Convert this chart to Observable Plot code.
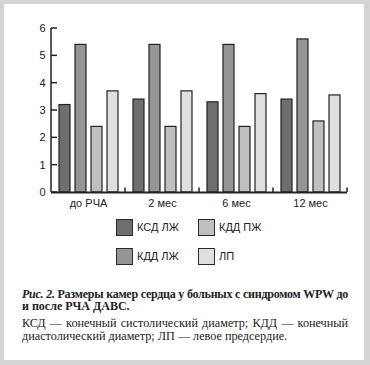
<!DOCTYPE html>
<html><head><meta charset="utf-8">
<script src="https://cdn.jsdelivr.net/npm/d3@7"></script>
<script src="https://cdn.jsdelivr.net/npm/@observablehq/plot@0.6"></script>
<style>
html,body{margin:0;padding:0;background:#fff;}
#page{position:relative;width:370px;height:365px;overflow:hidden;background:#fff;}
#border{position:absolute;left:0;top:0;width:370px;height:365px;box-sizing:border-box;border-style:solid;border-color:#d4d4d4;border-width:4px 6px 5px 4px;pointer-events:none;}
#chart{position:absolute;left:0;top:0;}
#legend{position:absolute;left:116px;top:219px;font-family:"Liberation Sans",Arial,sans-serif;font-size:11px;color:#222;display:grid;grid-template-columns:82px auto;grid-template-rows:29px 29px;grid-auto-flow:column;}
.item{display:flex;align-items:flex-start;gap:4px;line-height:17px;}
.sw{width:17px;height:17px;box-sizing:border-box;border:1px solid #2a2a2a;}
#caption{position:absolute;left:22px;top:287.5px;width:326px;font-family:"Liberation Serif","Times New Roman",serif;color:#222;}
.h{font-size:12px;line-height:12.5px;white-space:nowrap;}
.b{font-size:12.2px;line-height:13px;white-space:nowrap;}
.j{text-align:justify;text-align-last:justify;}
.p2{margin-top:4px;}
</style>
</head><body>
<div id="page">
  <div id="chart"></div>
  <div id="legend"></div>
  <div id="caption">
    <div class="h j fit"><b><i>Рис. 2.</i> Размеры камер сердца у больных с синдромом WPW до</b></div>
    <div class="h"><b>и после РЧА ДАВС.</b></div>
    <div class="b j p2 fit">КСД — конечный систолический диаметр; КДД — конечный</div>
    <div class="b">диастолический диаметр; ЛП — левое предсердие.</div>
  </div>
  <div id="border"></div>
</div>
<script>
const groups = ["до РЧА", "2 мес", "6 мес", "12 мес"];
const series = ["КСД ЛЖ", "КДД ЛЖ", "КДД ПЖ", "ЛП"];
const ksdLZh = [3.2, 3.4, 3.3, 3.4];
const kddLZh = [5.4, 5.4, 5.4, 5.6];
const kddPZh = [2.4, 2.4, 2.4, 2.6];
const lp = [3.7, 3.7, 3.6, 3.55];
const colors = ["#6e6e71", "#959598", "#bfbfc2", "#dfdfe1"];
const yTicks = [0, 1, 2, 3, 4, 5, 6];
const legendOrder = ["КСД ЛЖ", "КДД ЛЖ", "КДД ПЖ", "ЛП"];

const valuesBySeries = [ksdLZh, kddLZh, kddPZh, lp];
const rows = groups.flatMap((g, i) => series.map((s, j) => ({group: g, series: s, value: valuesBySeries[j][i]})));

const plot = Plot.plot({
  width: 370, height: 210,
  marginLeft: 49, marginRight: 22, marginTop: 28, marginBottom: 18,
  style: {fontFamily: "'Liberation Sans', Arial, sans-serif", fontSize: "11px", color: "#222", background: "transparent"},
  fx: {domain: groups, padding: 0, label: null},
  x: {domain: series, paddingInner: 0.32, paddingOuter: 0.36, axis: null},
  y: {domain: [0, 6], label: null},
  color: {domain: series, range: colors},
  marks: [
    Plot.barY(rows, {fx: "group", x: "series", y: "value", fill: "series", stroke: "#222", strokeWidth: 1.2}),
    Plot.ruleY([0], {stroke: "#222", strokeWidth: 2.2}),
    Plot.axisY(yTicks, {anchor: "left", tickSize: 0, tickPadding: 6, tickFormat: d => d, label: null}),
    Plot.axisFx({anchor: "bottom", tickSize: 0, tickPadding: 7, label: null})
  ]
});
document.getElementById("chart").appendChild(plot);

// axis line, inward y ticks and group-boundary ticks, placed from the plot's own scales
const fxs = plot.scale("fx"), ys = plot.scale("y");
const svg = d3.select(plot);
const g = svg.append("g").attr("stroke", "#222").attr("fill", "none");
const xLeft = fxs.apply(groups[0]);
const y0 = ys.apply(0), yTop = ys.apply(yTicks[yTicks.length - 1]);
g.append("line").attr("x1", xLeft).attr("x2", xLeft).attr("y1", y0).attr("y2", yTop).attr("stroke-width", 1.5);
yTicks.forEach(t => g.append("line").attr("x1", xLeft).attr("x2", xLeft + 6).attr("y1", ys.apply(t)).attr("y2", ys.apply(t)).attr("stroke-width", 1.5));
groups.forEach(gr => {
  const xr = fxs.apply(gr) + fxs.bandwidth;
  g.append("line").attr("x1", xr).attr("x2", xr).attr("y1", y0).attr("y2", y0 - 4.5).attr("stroke-width", 1.5);
});

const legend = document.getElementById("legend");
legendOrder.forEach(name => {
  const item = document.createElement("div");
  item.className = "item";
  const sw = document.createElement("div");
  sw.className = "sw";
  sw.style.background = colors[series.indexOf(name)];
  const t = document.createElement("span");
  t.textContent = name;
  item.appendChild(sw); item.appendChild(t);
  legend.appendChild(item);
});

// fit full-width caption lines into the caption width
document.querySelectorAll(".fit").forEach(el => {
  let ls = 0;
  while (el.scrollWidth > el.clientWidth && ls > -1.5) { ls -= 0.05; el.style.letterSpacing = ls + "px"; }
});
</script>
</body></html>
